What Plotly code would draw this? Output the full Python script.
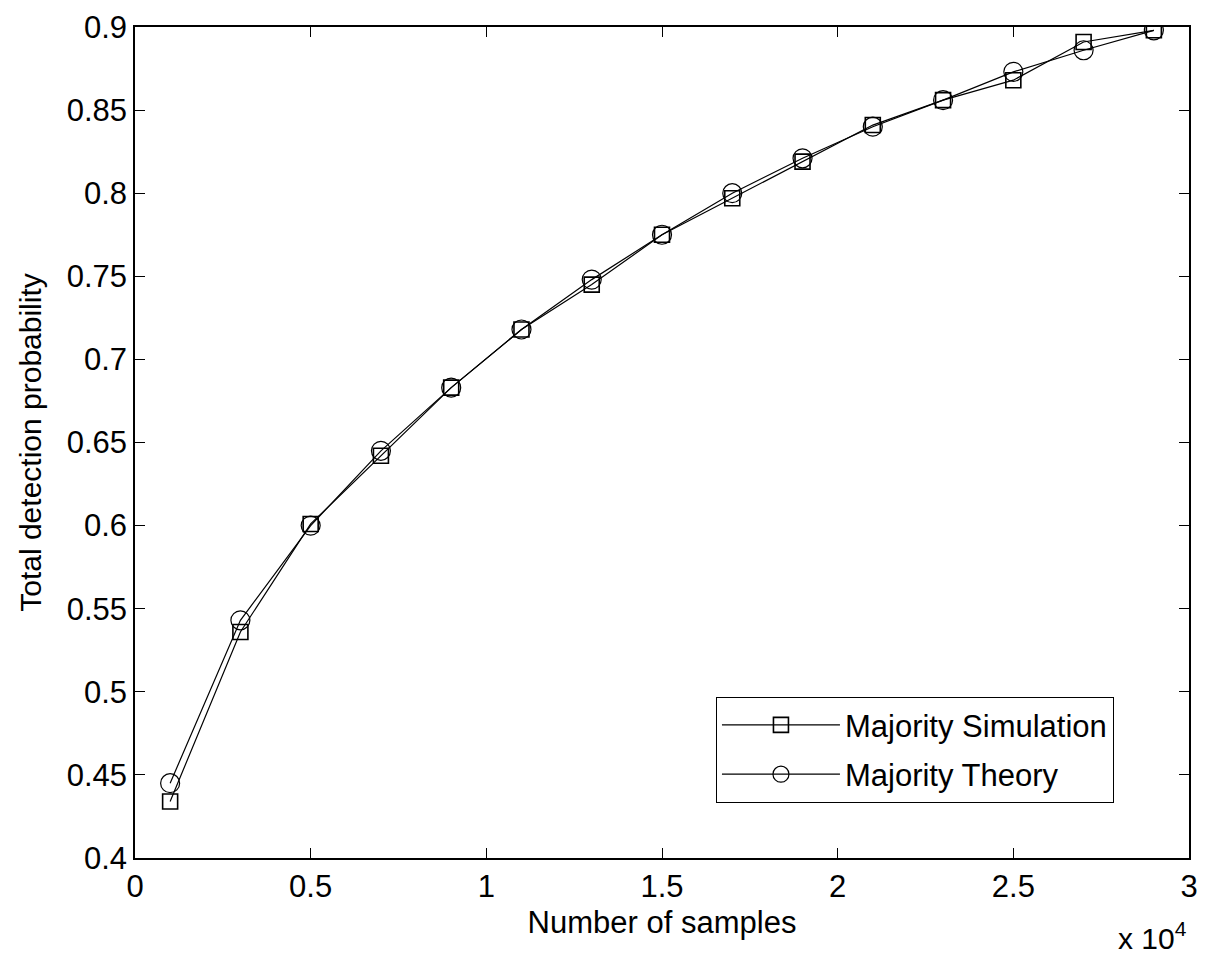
import plotly.graph_objects as go

samples = [1000, 3000, 5000, 7000, 9000, 11000, 13000, 15000, 17000, 19000, 21000, 23000, 25000, 27000, 29000]
sim = [0.434, 0.536, 0.601, 0.642, 0.683, 0.718, 0.745, 0.775, 0.797, 0.819, 0.841, 0.856, 0.868, 0.891, 0.898]
theory = [0.445, 0.543, 0.600, 0.645, 0.683, 0.718, 0.748, 0.775, 0.800, 0.821, 0.840, 0.856, 0.873, 0.886, 0.898]

xtick_vals = [0, 5000, 10000, 15000, 20000, 25000, 30000]
xtick_text = ["0", "0.5", "1", "1.5", "2", "2.5", "3"]
ytick_vals = [0.4, 0.45, 0.5, 0.55, 0.6, 0.65, 0.7, 0.75, 0.8, 0.85, 0.9]
ytick_text = ["0.4", "0.45", "0.5", "0.55", "0.6", "0.65", "0.7", "0.75", "0.8", "0.85", "0.9"]

font = "Liberation Sans, Arial, sans-serif"

fig = go.Figure()
fig.add_trace(go.Scatter(
    x=samples, y=sim, mode="lines+markers", name="Majority Simulation",
    legendgroup="sim",
    line=dict(color="black", width=1.2),
    marker=dict(symbol="square-open", size=15, color="black", line=dict(width=1.6)),
))
fig.add_trace(go.Scatter(
    x=samples, y=theory, mode="lines+markers", name="Majority Theory",
    legendgroup="theory",
    line=dict(color="black", width=1.2),
    marker=dict(symbol="circle-open", size=19, color="black", line=dict(width=1.2)),
))

axis_common = dict(
    showline=True, linecolor="black", linewidth=1.5, mirror="allticks",
    ticks="inside", ticklen=10, tickcolor="black", tickwidth=1.2,
    showgrid=False, zeroline=False,
    tickfont=dict(family=font, size=31, color="black"),
)

fig.update_layout(
    width=1199, height=949,
    margin=dict(l=127, r=18, t=19, b=99),
    paper_bgcolor="white", plot_bgcolor="white",
    font=dict(family=font, color="black"),
    xaxis=dict(range=[0, 30000], tickvals=xtick_vals, ticktext=xtick_text,
               automargin="bottom",
               title=dict(text="Number of samples", font=dict(family=font, size=31), standoff=8),
               **axis_common),
    yaxis=dict(range=[0.4, 0.9], tickvals=ytick_vals, ticktext=ytick_text,
               automargin=False,
               title=dict(text="Total detection probability", font=dict(family=font, size=30), standoff=16),
               **axis_common),
    legend=dict(x=0.551, y=0.1937, xanchor="left", yanchor="top",
                bgcolor="white", bordercolor="black", borderwidth=1.2,
                font=dict(family=font, size=31, color="black"),
                traceorder="grouped", tracegroupgap=6, itemwidth=118),
    showlegend=True,
)

fig.add_annotation(
    text="x 10<sup>4</sup>", xref="paper", yref="paper", x=1.0, y=-0.069,
    xanchor="right", yanchor="top", showarrow=False,
    font=dict(family=font, size=30, color="black"),
)

fig.write_html("out.html")
